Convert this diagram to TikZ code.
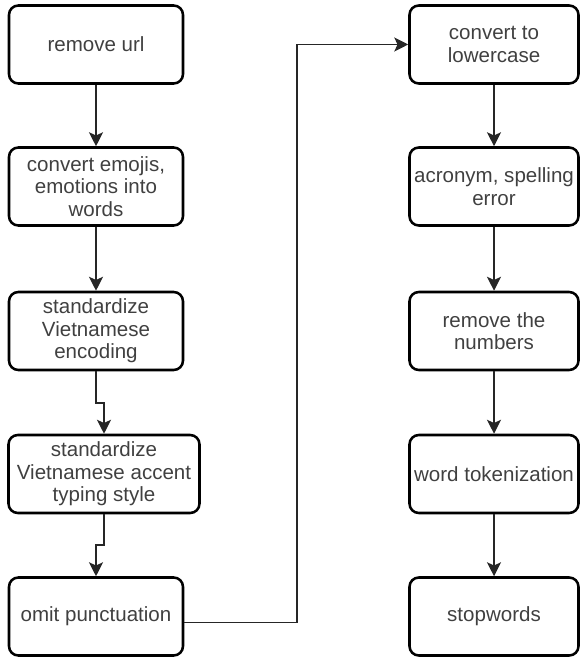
\documentclass[tikz,border=0pt]{standalone}
\usepackage{fontspec}
\setmainfont{Liberation Sans}
\usetikzlibrary{arrows.meta}

\begin{document}
\begin{tikzpicture}[x=0.75pt,y=-0.75pt,
    proc/.style={draw=black, line width=1.9pt, rounded corners=7pt,
        minimum width=130.5pt, minimum height=58.5pt, inner xsep=2pt,
        align=center, text=black!75,
        font=\fontsize{15.4pt}{16.8pt}\selectfont},
    procr/.style={proc, minimum width=126.75pt},
    link/.style={draw=black!85, line width=1.2pt,
        -{Stealth[length=10.5pt,width=10.5pt,inset=2.5pt]}}]

\useasboundingbox (0,0) rectangle (580,659);

% left column
\node[proc] (url)  at (96,44.5)  {remove url};
\node[proc] (emo)  at (96,186.5) {convert emojis,\\emotions into\\words};
\node[proc] (enc)  at (96,331)   {standardize\\Vietnamese\\encoding};
\node[proc, minimum width=143.25pt] (acc) at (104,474) {standardize\\Vietnamese accent\\typing style};
\node[proc] (punc) at (96,616.5) {omit punctuation};

% right column
\node[procr] (low)  at (494,44.5)  {convert to\\lowercase};
\node[procr] (err)  at (494,186.5) {acronym, spelling\\error};
\node[procr] (num)  at (494,331)   {remove the\\numbers};
\node[procr] (tok)  at (494,474)   {word tokenization};
\node[procr] (stop) at (494,616.5) {stopwords};

\coordinate (bend) at (297,44.5);

\draw[link] (url) -- (emo);
\draw[link] (emo) -- (enc);
\draw[link] (enc.south) -- ++(0,32) -| (acc.north);
\draw[link] (acc.south) -- ++(0,31) -| (punc.north);
\draw[link] ([yshift=-4.5pt]punc.east) -| (bend) -- (low);

\foreach \a/\b in {low/err, err/num, num/tok, tok/stop}
    \draw[link] (\a) -- (\b);

\end{tikzpicture}
\end{document}
